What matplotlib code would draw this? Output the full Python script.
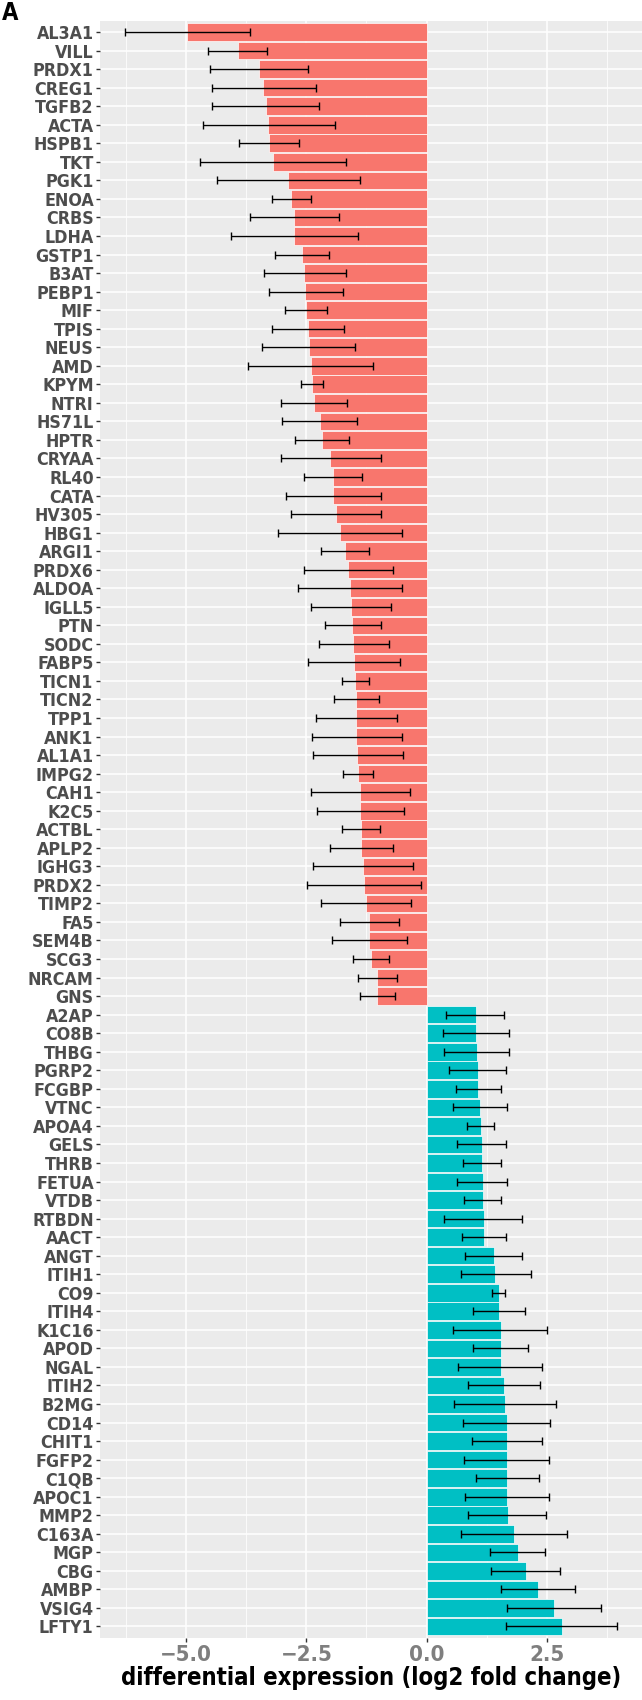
import matplotlib
matplotlib.use("Agg")
import matplotlib.pyplot as plt
import matplotlib.font_manager as fm
from matplotlib.textpath import TextPath
import numpy as np

proteins = ["AL3A1","VILL","PRDX1","CREG1","TGFB2","ACTA","HSPB1","TKT","PGK1","ENOA",
            "CRBS","LDHA","GSTP1","B3AT","PEBP1","MIF","TPIS","NEUS","AMD","KPYM",
            "NTRI","HS71L","HPTR","CRYAA","RL40","CATA","HV305","HBG1","ARGI1","PRDX6",
            "ALDOA","IGLL5","PTN","SODC","FABP5","TICN1","TICN2","TPP1","ANK1","AL1A1",
            "IMPG2","CAH1","K2C5","ACTBL","APLP2","IGHG3","PRDX2","TIMP2","FA5","SEM4B",
            "SCG3","NRCAM","GNS",
            "A2AP","CO8B","THBG","PGRP2","FCGBP","VTNC","APOA4","GELS","THRB","FETUA",
            "VTDB","RTBDN","AACT","ANGT","ITIH1","CO9","ITIH4","K1C16","APOD","NGAL",
            "ITIH2","B2MG","CD14","CHIT1","FGFP2","C1QB","APOC1","MMP2","C163A","MGP",
            "CBG","AMBP","VSIG4","LFTY1"]

log2fc = [-4.99,-3.93,-3.48,-3.40,-3.34,-3.29,-3.28,-3.20,-2.88,-2.81,
          -2.76,-2.76,-2.59,-2.54,-2.52,-2.51,-2.47,-2.45,-2.41,-2.38,
          -2.34,-2.22,-2.18,-2.00,-1.95,-1.95,-1.89,-1.80,-1.69,-1.63,
          -1.59,-1.57,-1.54,-1.53,-1.51,-1.49,-1.47,-1.47,-1.47,-1.44,
          -1.43,-1.38,-1.38,-1.37,-1.36,-1.33,-1.31,-1.26,-1.19,-1.19,
          -1.16,-1.03,-1.02,
          1.02,1.03,1.04,1.07,1.08,1.12,1.13,1.15,1.16,1.17,
          1.17,1.19,1.20,1.40,1.43,1.50,1.50,1.54,1.54,1.54,
          1.62,1.63,1.67,1.67,1.67,1.68,1.68,1.70,1.81,1.90,
          2.07,2.32,2.65,2.82]

err_low = [-6.28,-4.54,-4.51,-4.47,-4.47,-4.66,-3.91,-4.71,-4.35,-3.21,
           -3.67,-4.06,-3.15,-3.39,-3.28,-2.94,-3.21,-3.43,-3.72,-2.62,
           -3.02,-3.01,-2.74,-3.03,-2.54,-2.93,-2.82,-3.10,-2.20,-2.55,
           -2.67,-2.40,-2.11,-2.24,-2.47,-1.76,-1.93,-2.29,-2.38,-2.36,
           -1.74,-2.41,-2.28,-1.76,-2.00,-2.36,-2.49,-2.20,-1.80,-1.97,
           -1.53,-1.42,-1.38,
           0.40,0.34,0.36,0.46,0.61,0.55,0.85,0.64,0.76,0.64,
           0.78,0.37,0.74,0.81,0.72,1.37,0.96,0.55,0.97,0.65,
           0.87,0.57,0.76,0.94,0.78,1.02,0.80,0.87,0.71,1.32,
           1.35,1.54,1.67,1.66]

err_high = [-3.68,-3.31,-2.46,-2.30,-2.24,-1.91,-2.66,-1.67,-1.39,-2.41,
            -1.83,-1.42,-2.03,-1.67,-1.74,-2.06,-1.71,-1.48,-1.11,-2.15,
            -1.65,-1.44,-1.62,-0.95,-1.34,-0.95,-0.95,-0.50,-1.19,-0.70,
            -0.50,-0.73,-0.95,-0.79,-0.56,-1.19,-0.98,-0.61,-0.52,-0.49,
            -1.11,-0.35,-0.46,-0.97,-0.70,-0.28,-0.12,-0.32,-0.57,-0.41,
            -0.78,-0.62,-0.65,
            1.62,1.71,1.72,1.66,1.54,1.67,1.41,1.66,1.54,1.68,
            1.55,1.99,1.65,1.98,2.17,1.63,2.04,2.51,2.11,2.41,
            2.36,2.69,2.57,2.41,2.55,2.35,2.55,2.49,2.93,2.47,
            2.78,3.09,3.63,3.97]

x_ticks = [-5.0, -2.5, 0.0, 2.5]
x_ticklabels = ["\u22125.0", "\u22122.5", "0.0", "2.5"]
x_label = "differential expression (log2 fold change)"


# ---- choose a condensed bold font if one is installed ----
def pick_font():
    entries = fm.fontManager.ttflist
    prefs = ["liberationsansnarrow-bold", "dejavusanscondensed-bold",
             "robotocondensed-bold", "opensanscondensed-bold", "condensed-bold",
             "narrow-bold"]
    for p in prefs:
        for f in entries:
            base = f.fname.lower().replace(" ", "").split("/")[-1]
            if p in base and "italic" not in base and "oblique" not in base:
                return fm.FontProperties(fname=f.fname)
    for f in entries:
        base = f.fname.lower().split("/")[-1]
        if ("condensed" in base or "narrow" in base) and "bold" in base and \
                "italic" not in base and "oblique" not in base:
            return fm.FontProperties(fname=f.fname)
    return fm.FontProperties(family=["Roboto", "DejaVu Sans"], weight="bold")


FP = pick_font()


def fit_size(text, target_px, cap_pt):
    w = TextPath((0, 0), text, size=10, prop=FP).get_extents().width
    px_per_pt = 100.0 / 72.0
    s = target_px / (w / 10.0 * px_per_pt)
    return min(s, cap_pt)


ysize = fit_size("AL3A1", 56, 13.5)
xsize = fit_size("\u22125.0", 49, 17.5)
lsize = fit_size(x_label, 500, 18.5)


def fp(size):
    p = FP.copy()
    p.set_size(size)
    return p


W, H = 642.0, 1700.0
p_left, p_right, p_top, p_bottom = 100.0, 642.0, 20.9, 1637.6

fig = plt.figure(figsize=(6.42, 17.0), dpi=100)
ax = fig.add_axes([p_left / W, 1 - p_bottom / H, (p_right - p_left) / W, (p_bottom - p_top) / H])
ax.set_facecolor("#EBEBEB")

n = len(proteins)
y = np.arange(n)
vals = np.array(log2fc)
colors = ["#F8766D" if v < 0 else "#00BFC4" for v in vals]

ax.barh(y, vals, height=0.95, color=colors, edgecolor="white", linewidth=0.5, zorder=2)
lo = np.array(err_low); hi = np.array(err_high)
ax.errorbar(vals, y, xerr=[vals - lo, hi - vals], fmt="none", ecolor="black",
            elinewidth=1.0, capsize=2.6, capthick=1.0, zorder=3)

ax.set_ylim(n - 0.4, -0.6)
xmin = min(err_low); xmax = max(err_high)
pad = 0.05 * (xmax - xmin)
ax.set_xlim(xmin - pad, xmax + pad)

ax.set_xticks(x_ticks)
ax.set_xticks([-6.25, -3.75, -1.25, 1.25, 3.75], minor=True)
ax.grid(which="major", axis="both", color="white", linewidth=1.1, zorder=0)
ax.grid(which="minor", axis="x", color="white", linewidth=0.55, zorder=0)
ax.set_axisbelow(True)
for s in ax.spines.values():
    s.set_visible(False)

ax.set_yticks(y)
ax.set_yticklabels(proteins, fontproperties=fp(ysize), color="#4D4D4D")
ax.set_xticklabels(x_ticklabels, fontproperties=fp(xsize), color="#7F7F7F")
ax.tick_params(axis="y", which="major", length=3, width=1, color="#333333", pad=1.5)
ax.tick_params(axis="x", which="major", length=3, width=1, color="#333333", pad=2)
ax.tick_params(axis="x", which="minor", length=0)

ax.set_xlabel(x_label, fontproperties=fp(lsize), color="black", labelpad=1)

fig.text(2 / W, 1 - 1 / H, "A", fontproperties=fp(17), va="top", ha="left")

fig.savefig("out.png", dpi=100)
